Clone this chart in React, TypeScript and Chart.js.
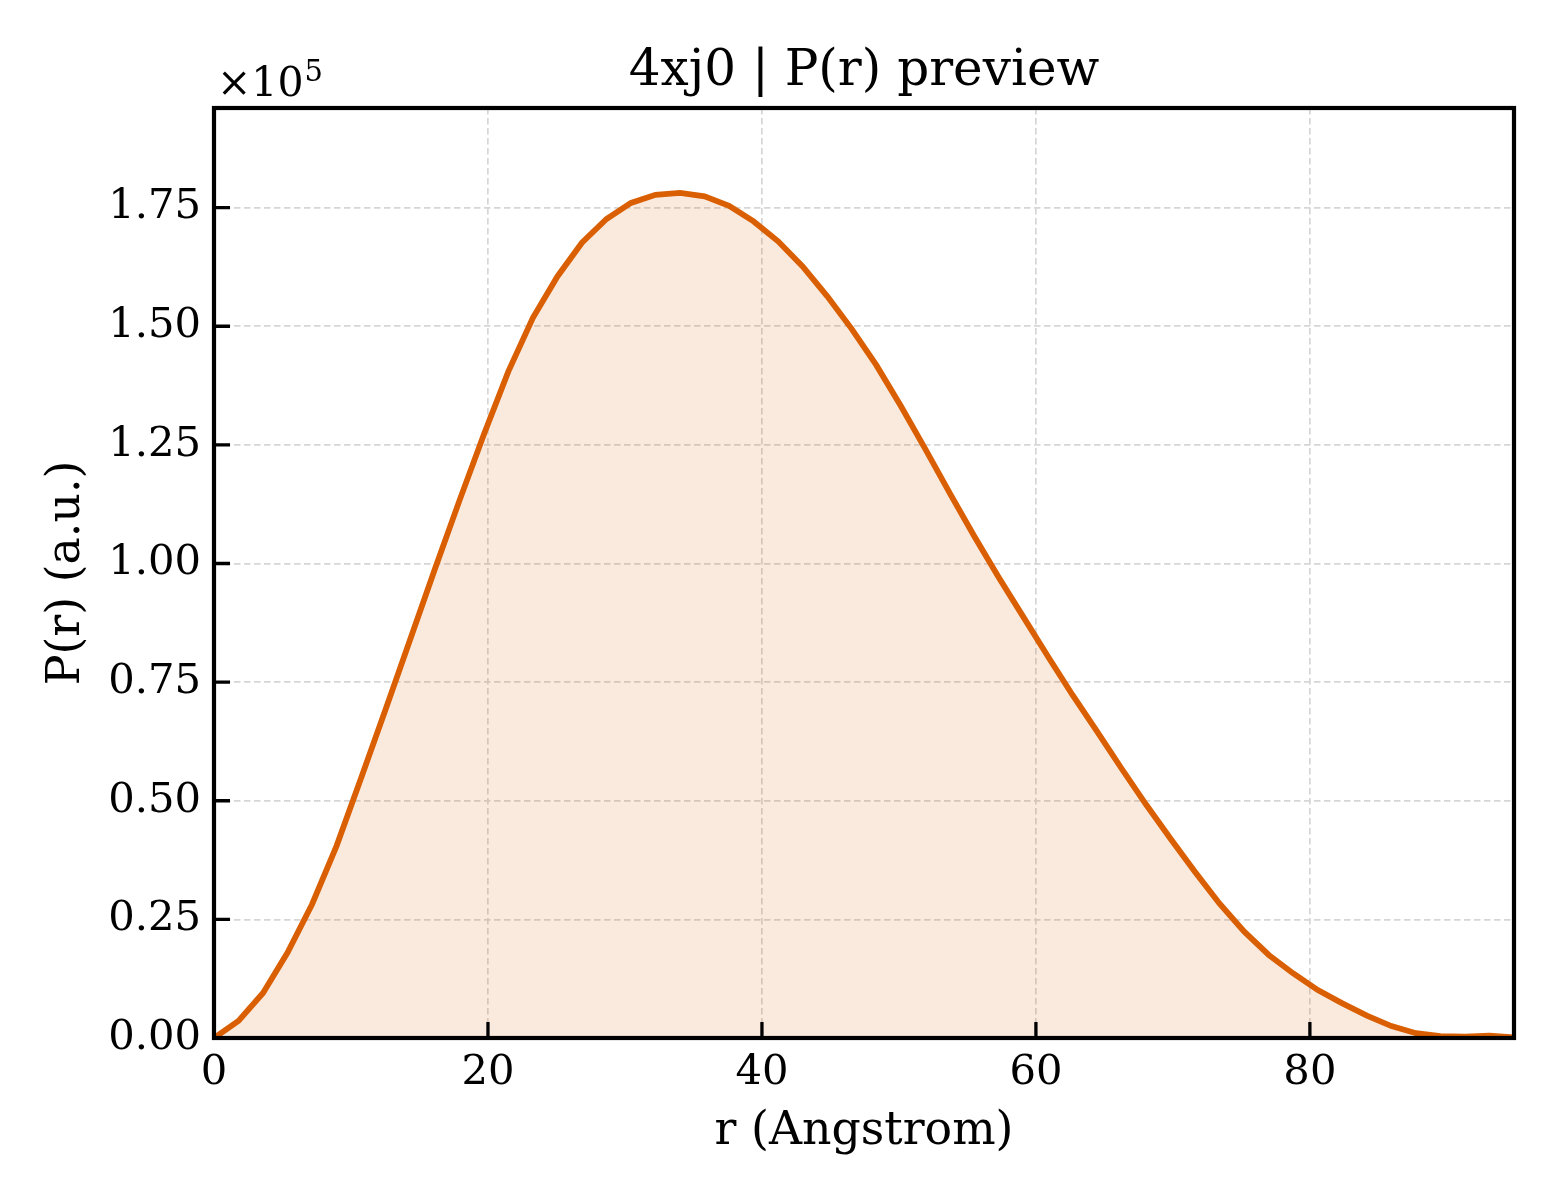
import { useEffect, useRef } from "react";
import { Chart, registerables, type Plugin } from "chart.js";

Chart.register(...registerables);

// r in Angstrom
const rValues = [
  0, 1.79, 3.58, 5.37, 7.16, 8.95, 10.74, 12.53, 14.32, 16.12, 17.91, 19.7, 21.49, 23.28,
  25.07, 26.86, 28.65, 30.44, 32.23, 34.02, 35.81, 37.6, 39.39, 41.18, 42.97, 44.77, 46.56,
  48.35, 50.14, 51.93, 53.72, 55.51, 57.3, 59.09, 60.88, 62.67, 64.46, 66.25, 68.04, 69.83,
  71.62, 73.41, 75.21, 77.0, 78.79, 80.58, 82.37, 84.16, 85.95, 87.74, 89.53, 91.32, 93.11,
  94.9,
];

// P(r), arbitrary units
const prValues = [
  0, 3600, 9500, 18000, 28200, 40500, 54800, 69300, 84000, 98800, 113200, 127200, 140500,
  151800, 160500, 167600, 172600, 176000, 177700, 178100, 177400, 175400, 172100, 167900,
  162600, 156300, 149400, 141800, 133200, 124100, 114800, 105700, 97000, 88700, 80400,
  72300, 64600, 56800, 49200, 42000, 35000, 28300, 22400, 17500, 13600, 10100, 7300, 4700,
  2500, 1000, 400, 300, 500, 100,
];

const xTicks = [0, 20, 40, 60, 80];
const yTicks = [0, 25000, 50000, 75000, 100000, 125000, 150000, 175000];

const TITLE = "4xj0 | P(r) preview";
const SERIF = '"DejaVu Serif", serif';
const LINE_COLOR = "#d95f02";

const framePlugin: Plugin<"line"> = {
  id: "frame",
  afterDraw(chart) {
    const { ctx, chartArea: a, scales } = chart;
    ctx.save();
    ctx.strokeStyle = "#000";
    ctx.lineWidth = 3.3;
    ctx.beginPath();
    for (const v of xTicks) {
      const x = scales.x.getPixelForValue(v);
      ctx.moveTo(x, a.bottom);
      ctx.lineTo(x, a.bottom - 16);
    }
    for (const v of yTicks) {
      const y = scales.y.getPixelForValue(v);
      ctx.moveTo(a.left, y);
      ctx.lineTo(a.left + 16, y);
    }
    ctx.stroke();

    ctx.lineWidth = 4.2;
    ctx.strokeRect(a.left, a.top, a.right - a.left, a.bottom - a.top);

    ctx.fillStyle = "#000";
    ctx.textBaseline = "alphabetic";
    ctx.textAlign = "center";
    ctx.font = `50px ${SERIF}`;
    ctx.fillText(TITLE, (a.left + a.right) / 2, 85);

    // offset text ×10^5
    ctx.textAlign = "left";
    ctx.font = `41px ${SERIF}`;
    const base = "\u00d710";
    ctx.fillText(base, a.left + 3, 96);
    const w = ctx.measureText(base).width;
    ctx.font = `29px ${SERIF}`;
    ctx.fillText("5", a.left + 3 + w + 1, 81);
    ctx.restore();
  },
};

export default function App() {
  const canvasRef = useRef<HTMLCanvasElement>(null);

  useEffect(() => {
    if (!canvasRef.current) return;
    const chart = new Chart(canvasRef.current, {
      type: "line",
      data: {
        datasets: [
          {
            label: "P(r)",
            data: rValues.map((r, i) => ({ x: r, y: prValues[i] })),
            borderColor: LINE_COLOR,
            backgroundColor: "rgba(217, 95, 2, 0.13)",
            borderWidth: 5.8,
            fill: "origin",
            pointRadius: 0,
            tension: 0,
          },
        ],
      },
      options: {
        animation: false,
        responsive: false,
        devicePixelRatio: 1,
        layout: { padding: { top: 108, right: 46, left: 0, bottom: 0 } },
        plugins: {
          legend: { display: false },
          tooltip: { enabled: false },
          title: { display: false },
        },
        scales: {
          x: {
            type: "linear",
            min: 0,
            max: 94.9,
            afterBuildTicks: (s) => {
              s.ticks = xTicks.map((v) => ({ value: v }));
            },
            afterFit: (s) => {
              s.height = 162;
            },
            grid: { color: "#d6d6d6", lineWidth: 1.7, drawTicks: false },
            border: { display: false, dash: [6.5, 3.5] },
            ticks: {
              color: "#000",
              font: { family: SERIF, size: 41.7 },
              padding: 10,
              maxRotation: 0,
              autoSkip: false,
            },
            title: {
              display: true,
              text: "r (Angstrom)",
              color: "#000",
              font: { family: SERIF, size: 45.8 },
              padding: { top: 0, bottom: 40 },
            },
          },
          y: {
            type: "linear",
            min: 0,
            max: 196000,
            afterBuildTicks: (s) => {
              s.ticks = yTicks.map((v) => ({ value: v }));
            },
            afterFit: (s) => {
              s.width = 214;
            },
            grid: { color: "#d6d6d6", lineWidth: 1.7, drawTicks: false },
            border: { display: false, dash: [6.5, 3.5] },
            ticks: {
              color: "#000",
              font: { family: SERIF, size: 41.7 },
              padding: 13,
              autoSkip: false,
              callback: (v) => (Number(v) / 1e5).toFixed(2),
            },
            title: {
              display: true,
              text: "P(r) (a.u.)",
              color: "#000",
              font: { family: SERIF, size: 45.8 },
              padding: { top: 40, bottom: 0 },
            },
          },
        },
      },
      plugins: [framePlugin],
    });
    return () => chart.destroy();
  }, []);

  return (
    <div style={{ position: "absolute", left: 0, top: 0, width: 1560, height: 1200, background: "#fff" }}>
      <canvas ref={canvasRef} width={1560} height={1200} />
    </div>
  );
}
